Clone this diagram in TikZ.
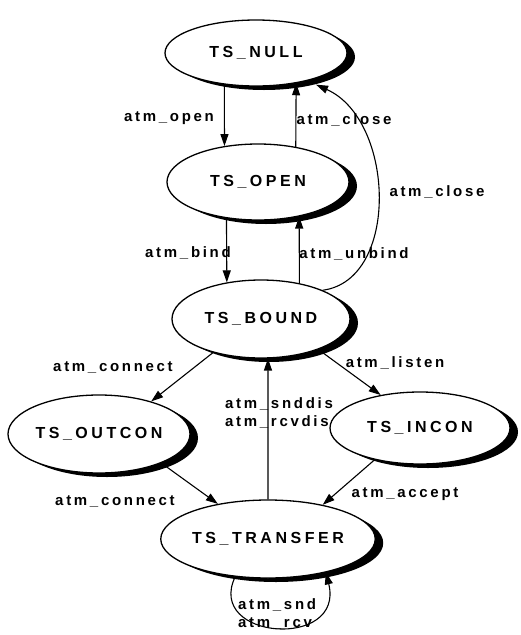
\documentclass[tikz,border=0pt]{standalone}
\usepackage{fontspec}
\setmainfont{Liberation Sans}[LetterSpace=18]
\newfontfamily\statefont{Liberation Sans}[LetterSpace=22]
\usetikzlibrary{shapes.geometric,shadows,arrows.meta}

\begin{document}
\begin{tikzpicture}[x=1pt,y=-1pt,
  state/.style={ellipse, draw, line width=1.3pt, fill=white, inner sep=0pt,
    drop shadow={shadow xshift=8pt, shadow yshift=-4pt, fill=black, opacity=1},
    font=\statefont\fontsize{16}{16}\selectfont\bfseries},
  tr/.style={-{Triangle[length=12pt,width=8pt]}, line width=1.1pt},
  lbl/.style={font=\fontsize{15}{18}\selectfont\bfseries, inner sep=0pt, align=left}]
\useasboundingbox[fill=white] (0,0) rectangle (521,635);

% states
\node[state, minimum width=182pt, minimum height=66pt] (null)     at (256,53)  {TS\_NULL};
\node[state, minimum width=182pt, minimum height=76pt] (open)     at (258,182) {TS\_OPEN};
\node[state, minimum width=178pt, minimum height=78pt] (bound)    at (261,319) {TS\_BOUND};
\node[state, minimum width=182pt, minimum height=78pt] (outcon)   at (99,434)  {TS\_OUTCON};
\node[state, minimum width=180pt, minimum height=72pt] (incon)    at (420,428) {TS\_INCON};
\node[state, minimum width=184pt, minimum height=78pt] (transfer) at (268,539) {TS\_TRANSFER};

% transitions
\draw[tr] (null.-135) -- (open.133);
\draw[tr] (open.43) -- (null.-37);
\draw[tr] (open.-131) -- (bound.133);
\draw[tr] (bound.43) -- (open.-40);
\draw[tr] (bound.25) .. controls (400,280) and (395,120) .. ([xshift=8pt,yshift=-4pt]null.-28);
\draw[tr] (bound.-145) -- (outcon.32);
\draw[tr] (bound.-28) -- (incon.140);
\draw[tr] (transfer.90) -- (bound.-80);
\draw[tr] (outcon.-25) -- (transfer.145);
\draw[tr] (incon.-145) -- (transfer.32);
\draw[tr] (transfer.-131) .. controls (205,640) and (345,650) .. (transfer.-30);

% transition labels
\node[lbl] (lopen)    at (169,118) {atm\_open};
\node[lbl] (lclose)   at (344,120) {atm\_close};
\node[lbl] (lclose2)  at (437,192) {atm\_close};
\node[lbl] (lbind)    at (188,253) {atm\_bind};
\node[lbl] (lunbind)  at (354,254) {atm\_unbind};
\node[lbl] (lconn)    at (113,368) {atm\_connect};
\node[lbl] (llisten)  at (395,363) {atm\_listen};
\node[lbl, anchor=west] (ldis) at (225,413) {atm\_snddis\\atm\_rcvdis};
\node[lbl] (lconn2)   at (115,502) {atm\_connect};
\node[lbl] (laccept)  at (405,494) {atm\_accept};
\node[lbl, anchor=west] (lloop) at (238,614) {atm\_snd\\atm\_rcv};
\end{tikzpicture}
\end{document}
